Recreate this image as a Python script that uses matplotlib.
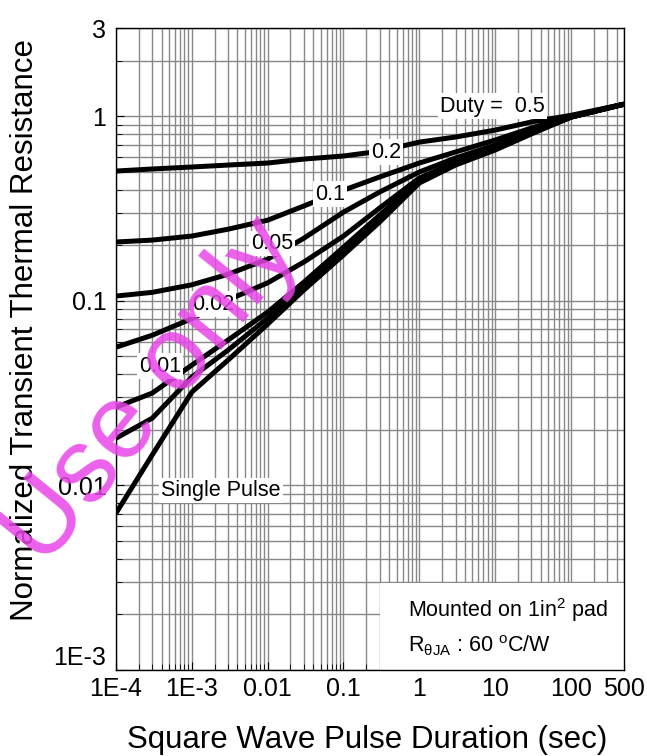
import matplotlib
matplotlib.use("Agg")
import matplotlib.pyplot as plt
from matplotlib.patches import Rectangle
from matplotlib.ticker import FixedLocator, LogLocator, NullFormatter

plt.rcParams['font.family'] = ['Liberation Sans', 'DejaVu Sans']
plt.rcParams['mathtext.fontset'] = 'custom'
plt.rcParams['mathtext.rm'] = 'Liberation Sans'
plt.rcParams['mathtext.it'] = 'Liberation Sans:italic'

# pulse duration (sec)
t = [1e-4, 3e-4, 1e-3, 3e-3, 1e-2, 3e-2, 0.1, 0.3, 1, 3, 10, 30, 100, 500]

# normalized transient thermal resistance per duty cycle
z_05 = [0.504, 0.517, 0.530, 0.543, 0.557, 0.585, 0.608, 0.645, 0.723, 0.770, 0.840, 0.929, 1.01, 1.16]
z_02 = [0.208, 0.213, 0.224, 0.244, 0.273, 0.326, 0.397, 0.468, 0.557, 0.639, 0.742, 0.862, 1.00, 1.16]
z_01 = [0.106, 0.111, 0.122, 0.139, 0.168, 0.218, 0.302, 0.388, 0.498, 0.593, 0.697, 0.830, 0.988, 1.16]
z_005 = [0.056, 0.065, 0.080, 0.101, 0.125, 0.162, 0.224, 0.318, 0.462, 0.564, 0.680, 0.820, 0.988, 1.16]
z_002 = [0.0265, 0.0316, 0.0448, 0.0612, 0.0868, 0.126, 0.195, 0.291, 0.450, 0.557, 0.671, 0.810, 0.988, 1.16]
z_001 = [0.018, 0.0231, 0.0386, 0.054, 0.0805, 0.1186, 0.186, 0.280, 0.439, 0.550, 0.663, 0.810, 0.988, 1.16]
z_single = [0.00707, 0.0146, 0.032, 0.0477, 0.0747, 0.1142, 0.177, 0.267, 0.434, 0.543, 0.655, 0.80, 0.988, 1.16]

curvas = [z_05, z_02, z_01, z_005, z_002, z_001, z_single]

# curve labels: text, x, y
etiquetas = [
    ("Duty =  0.5", 9.1, 1.134),
    ("0.2", 0.365, 0.639),
    ("0.1", 0.0665, 0.378),
    ("0.05", 0.0114, 0.205),
    ("0.02", 0.0019, 0.0959),
    ("0.01", 3.8e-4, 0.0443),
    ("Single Pulse", 0.00243, 0.00942),
]

x_ticks = [1e-4, 1e-3, 1e-2, 0.1, 1, 10, 100, 500]
x_labels = ["1E-4", "1E-3", "0.01", "0.1", "1", "10", "100", "500"]
y_ticks = [1e-3, 1e-2, 0.1, 1, 3]
y_labels = ["1E-3", "0.01", "0.1", "1", "3"]

fig = plt.figure(figsize=(6.47, 7.56), dpi=100)
ax = fig.add_axes([116/647, 86/756, 508/647, 642/756])

ax.set_xscale('log')
ax.set_yscale('log')
ax.set_xlim(1e-4, 500)
ax.set_ylim(1e-3, 3)

ax.set_axisbelow(True)
ax.grid(True, which='both', color='#888888', linewidth=1.0)

ax.xaxis.set_major_locator(FixedLocator(x_ticks))
ax.xaxis.set_minor_locator(LogLocator(base=10, subs=range(2, 10), numticks=20))
ax.xaxis.set_minor_formatter(NullFormatter())
ax.set_xticklabels(x_labels)
ax.yaxis.set_major_locator(FixedLocator(y_ticks))
ax.yaxis.set_minor_locator(LogLocator(base=10, subs=range(2, 10), numticks=20))
ax.yaxis.set_minor_formatter(NullFormatter())
ax.set_yticklabels(y_labels)

ax.tick_params(which='both', direction='in', labelsize=18)
ax.tick_params(which='major', length=6)
ax.tick_params(which='minor', length=4)
ax.tick_params(axis='x', pad=5)
ax.tick_params(axis='y', pad=7)

# bottom y label sits a bit higher so it clears the x labels
ax.get_yticklabels()[0].set_verticalalignment('bottom')

for s in ax.spines.values():
    s.set_linewidth(1.0)

for z in curvas:
    ax.plot(t, z, color='black', linewidth=3.6, solid_capstyle='butt', zorder=2)

for texto, xx, yy in etiquetas:
    ax.text(xx, yy, texto, fontsize=15.5, ha='center', va='center', zorder=3,
            bbox=dict(facecolor='white', edgecolor='none', pad=1.5))

# white box with the mounting note
ax.add_patch(Rectangle((0.52, 0.0), 0.48, 0.1355, transform=ax.transAxes,
                       facecolor='white', edgecolor='none', zorder=1.6))
ax.text(0.575, 0.0935, r"Mounted on 1in$^{2}$ pad", transform=ax.transAxes,
        fontsize=15.5, ha='left', va='center', zorder=3)
ax.text(0.575, 0.0374, r"R$_{\mathrm{θJA}}$ : 60 $^{\mathrm{o}}$C/W", transform=ax.transAxes,
        fontsize=15.5, ha='left', va='center', zorder=3)

ax.set_xlabel("Square Wave Pulse Duration (sec)", fontsize=22.5, va='center')
ax.xaxis.set_label_coords(0.494, -0.109)
ax.set_ylabel("Normalized Transient Thermal Resistance", fontsize=22.5, va='center')
ax.yaxis.set_label_coords(-0.179, 0.53)

fig.text(152/647, 1 - 392/756, "Use only", fontsize=76, color='#e845e8', alpha=0.85,
         rotation=51, ha='center', va='center', zorder=10)

fig.savefig("out.png", dpi=100)
